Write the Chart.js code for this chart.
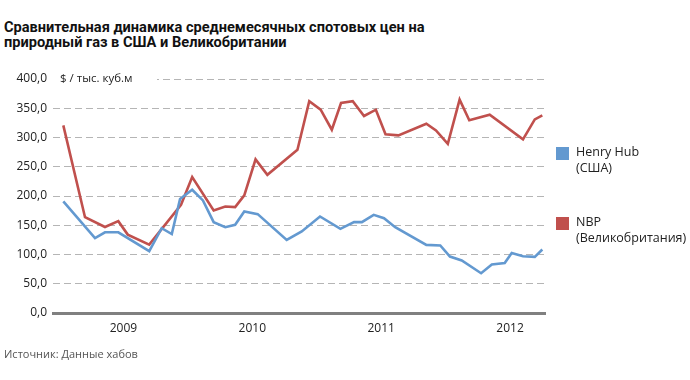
<!DOCTYPE html>
<html lang="ru">
<head>
<meta charset="utf-8">
<title>Сравнительная динамика цен на газ</title>
<script src="https://cdn.jsdelivr.net/npm/chart.js@4"></script>
<style>
  html, body { margin: 0; padding: 0; background: #fff; }
  body { width: 690px; height: 380px; position: relative; overflow: hidden; font-family: "Open Sans", sans-serif; }
  #chart { position: absolute; left: 0; top: 0; }
  .title { position: absolute; left: 4px; top: 20px; font-family: Roboto, sans-serif; font-size: 14.6px; line-height: 15px; font-weight: 700; color: #111; white-space: nowrap; }
  .legend { position: absolute; left: 556px; font-size: 12.5px; line-height: 16px; color: #222; }
  .legend .sw { position: absolute; left: 0; top: 3px; width: 13px; height: 13px; }
  .legend .tx { margin-left: 20px; }
  .source { position: absolute; left: 4px; top: 346px; font-size: 11px; color: #555; }
</style>
</head>
<body>
<div class="title">Сравнительная динамика среднемесячных спотовых цен на<br>природный газ в США и Великобритании</div>
<canvas id="chart" width="690" height="380"></canvas>
<div class="legend" style="top:144px"><span class="sw" style="background:#6399d0"></span><div class="tx">Henry Hub<br>(США)</div></div>
<div class="legend" style="top:214px"><span class="sw" style="background:#c0504d"></span><div class="tx">NBP<br>(Великобритания)</div></div>
<div class="source">Источник: Данные хабов</div>

<script>
// months counted from January 2009 (0 = Jan 2009)
var hhMonths = [0, 2.95, 3.88, 5.12, 8.0, 9.16, 10.1, 10.87, 12.0, 13.0, 14.0, 15.08, 16.0, 16.85, 18.1,
    20.8, 22.2, 23.9, 25.8, 27.07, 27.8, 28.9, 29.86, 30.9, 33.8, 35.1, 36.0, 37.1, 38.9, 39.9,
    41.1, 41.75, 42.8, 43.9, 44.6];
var hhValues = [190.7, 128, 138, 138, 105.6, 145, 135, 195, 210.6, 192.4, 155.3, 146.7, 150.7, 173.6, 169,
    125, 139.4, 165, 143.8, 155.3, 155.3, 167.8, 162, 146.7, 116.4, 115.4, 96.5, 89.7, 68, 82.9,
    85.6, 102.7, 97, 95.9, 108.5];

var nbpMonths = [0, 2.02, 3.88, 5.12, 6.0, 8.0, 10.96, 12.0, 14.0, 15.08, 16.0, 16.85, 17.9, 19.0, 21.8,
    22.9, 23.96, 25.0, 25.86, 26.95, 28.0, 29.1, 30.0, 31.2, 33.8, 34.7, 35.8, 36.9, 37.8, 39.7,
    42.8, 43.9, 44.6];
var nbpValues = [320.8, 163.8, 147, 157, 134, 117, 185, 232.3, 175.3, 182, 181, 201, 262.6, 236.3, 279,
    362, 347.5, 313.3, 359, 362, 336.8, 347.5, 305.4, 303.7, 323.6, 312, 289.3, 364.7, 329.4, 339,
    296.9, 331, 338];

var yearLabels = ['2009', '2010', '2011', '2012'];
var yTicks = [0, 50, 100, 150, 200, 250, 300, 350, 400];

function toPoints(xs, ys) {
    return xs.map(function (x, i) { return { x: x, y: ys[i] }; });
}

// unit caption over the top gridline
var unitLabel = {
    id: 'unitLabel',
    beforeDatasetsDraw: function (chart) {
        var ctx = chart.ctx;
        var y = chart.scales.y.getPixelForValue(400);
        ctx.save();
        ctx.fillStyle = '#fff';
        ctx.fillRect(chart.chartArea.left, y - 6, 104, 12);
        ctx.fillStyle = '#222';
        ctx.font = '11.5px "Open Sans", sans-serif';
        ctx.textBaseline = 'middle';
        ctx.fillText('$ / тыс. куб.м', chart.chartArea.left + 7, y);
        ctx.restore();
    }
};

new Chart(document.getElementById('chart').getContext('2d'), {
    type: 'line',
    data: {
        datasets: [{
            label: 'Henry Hub (США)',
            data: toPoints(hhMonths, hhValues),
            borderColor: '#6399d0',
            borderWidth: 2.6,
            pointRadius: 0,
            tension: 0
        }, {
            label: 'NBP (Великобритания)',
            data: toPoints(nbpMonths, nbpValues),
            borderColor: '#c0504d',
            borderWidth: 2.6,
            pointRadius: 0,
            tension: 0
        }]
    },
    options: {
        responsive: false,
        animation: false,
        layout: { padding: { left: 0, right: 145, top: 79, bottom: 37 } },
        plugins: { legend: { display: false }, tooltip: { enabled: false } },
        scales: {
            x: {
                type: 'linear',
                min: -0.96,
                max: 44.85,
                grid: { display: false },
                border: { display: true, color: '#808080', width: 3 },
                afterBuildTicks: function (axis) {
                    axis.ticks = yearLabels.map(function (y, i) { return { value: i * 12 + 5.6 }; });
                },
                afterFit: function (axis) { axis.height = 30; },
                ticks: {
                    padding: 0,
                    maxRotation: 0,
                    autoSkip: false,
                    color: '#222',
                    font: { family: 'Open Sans', size: 12 },
                    callback: function (v, i) { return yearLabels[i]; }
                }
            },
            y: {
                min: 0,
                max: 400,
                afterBuildTicks: function (axis) {
                    axis.ticks = yTicks.map(function (v) { return { value: v }; });
                },
                afterFit: function (axis) { axis.width = 53; },
                grid: { color: '#b5b5b5', lineWidth: 1, drawTicks: false },
                border: { display: false, dash: [7, 4] },
                ticks: {
                    padding: 6,
                    color: '#222',
                    font: { family: 'Open Sans', size: 12 },
                    callback: function (v) { return v.toFixed(1).replace('.', ','); }
                }
            }
        }
    },
    plugins: [unitLabel]
});
</script>
</body>
</html>
